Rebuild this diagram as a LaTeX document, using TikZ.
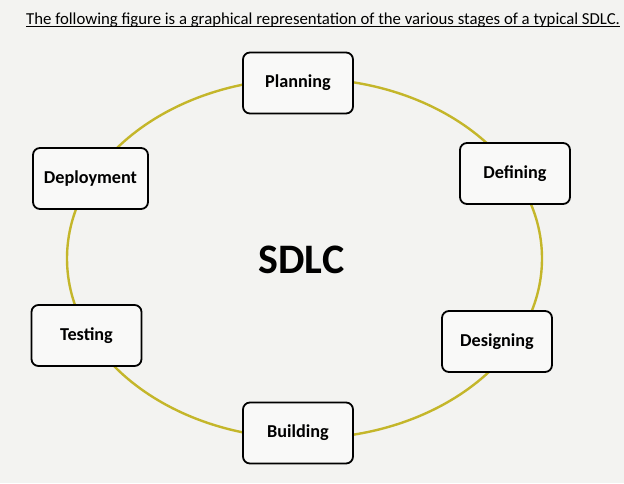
\documentclass[tikz,border=0pt]{standalone}
\usepackage{fontspec}
\setmainfont{Carlito}
\definecolor{fondo}{RGB}{243,243,241}
\definecolor{caja}{RGB}{249,249,248}
\definecolor{ciclo}{RGB}{196,182,42}

\begin{document}
\begin{tikzpicture}[x=1pt,y=-1pt,
    etapa/.style={draw,line width=1.8pt,rounded corners=7pt,fill=caja,
        minimum width=110pt,minimum height=61pt,inner sep=0pt,
        font=\fontsize{18.2}{21}\selectfont\bfseries}]
    % fondo: el lienzo mide lo mismo que la imagen original
    \fill[fondo] (0,0) rectangle (624,483);
    \useasboundingbox (0,0) rectangle (624,483);

    % titulo subrayado en la parte superior
    \node[anchor=base west,inner sep=0pt,font=\fontsize{16.75}{19}\selectfont]
        (titulo) at (26,24)
        {The following figure is a graphical representation of the various stages of a typical SDLC.};
    \draw[line width=0.8pt] ([yshift=-2.8pt]titulo.base west)
        -- ([yshift=-2.8pt]titulo.base east);

    % ciclo: una sola elipse por detras de las seis etapas
    \draw[ciclo,line width=2.4pt] (304.5,258.5) ellipse (237.5 and 180);

    \node[etapa] (planning) at (298,83) {Planning};
    \node[etapa] (defining) at (515,173.5) {Defining};
    \node[etapa] (designing) at (497,341.5) {Designing};
    \node[etapa] (building) at (298,433) {Building};
    \node[etapa] (testing) at (86.5,335.5) {Testing};
    \node[etapa,minimum width=115pt] (deployment) at (90.5,178.5) {Deployment};

    \node[font=\fontsize{42}{46}\selectfont\bfseries] (sdlc) at (301.5,260) {SDLC};
\end{tikzpicture}
\end{document}
